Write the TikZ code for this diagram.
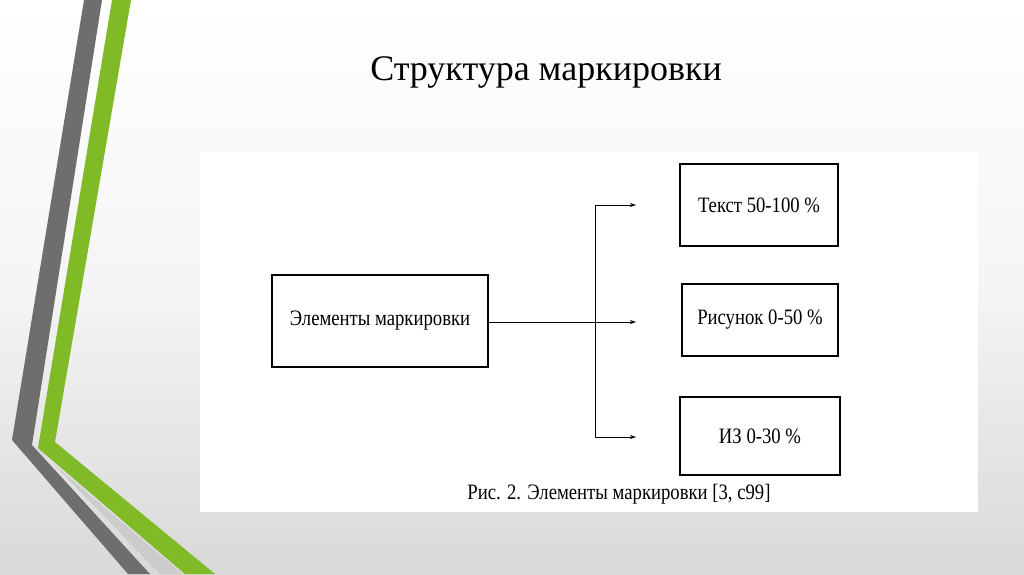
\documentclass[tikz,border=0pt]{standalone}
\usepackage{fontspec}
\setmainfont{Liberation Serif}
\newfontfamily\cond{Liberation Serif}[FakeStretch=0.85]
\usetikzlibrary{arrows.meta}
\definecolor{dgreen}{RGB}{128,186,38}
\definecolor{dgray}{RGB}{110,110,110}
\begin{document}
\begin{tikzpicture}[x=1pt,y=-1pt,
  box/.style={draw=black,line width=1.6pt,fill=white,inner sep=0pt},
  lbl/.style={font=\cond\fontsize{22}{24}\selectfont},
  conn/.style={line width=0.8pt},
  arr/.style={conn,-{Stealth[length=6pt,width=4pt]}}]
\useasboundingbox (0,0) rectangle (1024,574);
\shade[top color=white,bottom color=gray!30,middle color=gray!8] (0,0) rectangle (1024,574);
% left decoration
\fill[dgray] (84,0) -- (102,0) -- (32,445) -- (150,574) -- (128,574) -- (12,440) -- cycle;
\fill[dgreen] (112,0) -- (131,0) -- (55,442) -- (215,574) -- (185,574) -- (38,448) -- cycle;
\fill[gray!40] (36,446) -- (40,452) -- (182,574) -- (160,574) -- cycle;
\node[font=\fontsize{36}{40}\selectfont] (title) at (546,72) {Структура маркировки};
\fill[white] (200,152) rectangle (978,512);
\node[box,minimum width=216pt,minimum height=92pt,lbl] (el) at (380,321) {Элементы маркировки};
\node[box,minimum width=158pt,minimum height=82pt,lbl] (t) at (759,205) {Текст 50-100 \%};
\node[box,minimum width=156pt,minimum height=72pt,lbl] (r) at (760,320) {Рисунок 0-50 \%};
\node[box,minimum width=160pt,minimum height=78pt,lbl] (iz) at (760,436) {ИЗ 0-30 \%};
\coordinate (j1) at (595,205);
\coordinate (j2) at (595,322);
\coordinate (j3) at (595,437);
\coordinate (a1) at (636,205);
\coordinate (a2) at (636,322);
\coordinate (a3) at (636,437);
\draw[conn] (el.east |- j2) -- (j2);
\draw[conn] (j1) -- (j3);
\draw[arr] (j1) -- (a1);
\draw[arr] (j2) -- (a2);
\draw[arr] (j3) -- (a3);
\node[lbl] (cap) at (619,494) {Рис. 2. Элементы маркировки [3, с99]};
\end{tikzpicture}
\end{document}
